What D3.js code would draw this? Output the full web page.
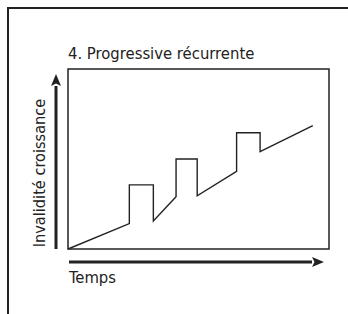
<!DOCTYPE html>
<html><head><meta charset="utf-8">
<script src="https://cdn.jsdelivr.net/npm/d3@7"></script>
<style>body{margin:0;background:#fff}svg{display:block}text{font-family:"DejaVu Sans Condensed","Liberation Sans Narrow",sans-serif;fill:#222}</style>
</head><body><svg id="c" width="348" height="314"></svg>
<script>
const title = "4. Progressive récurrente";
const yLabel = "Invalidité croissance";
const xLabel = "Temps";
const timeX = [0, 23.5, 23.5, 32.7, 32.7, 41.4, 41.4, 49.5, 49.5, 64.6, 64.6, 73.6, 73.6, 93.8];
const disability = [0, 14.1, 35.6, 35.6, 15.6, 29.1, 50, 50, 29.6, 43.2, 64.6, 64.6, 54.1, 68.5];

const svg = d3.select("#c");
const col = "#222";
const L = 68, R = 329, T = 69, B = 249;
const x = d3.scaleLinear().domain([0, 100]).range([L, R]);
const y = d3.scaleLinear().domain([0, 100]).range([B, T]);

// outer frame
svg.append("path").attr("d", "M8,314 V8 H348").attr("fill", "none").attr("stroke", col).attr("stroke-width", 2);

// title
svg.append("text").attr("x", L).attr("y", 59).attr("font-size", 16.5).text(title);

// plot box
svg.append("rect").attr("x", L).attr("y", T).attr("width", R - L).attr("height", B - T)
  .attr("fill", "none").attr("stroke", col).attr("stroke-width", 1.5);

// data line
svg.append("path").datum(d3.zip(timeX, disability))
  .attr("d", d3.line().x(d => x(d[0])).y(d => y(d[1])))
  .attr("fill", "none").attr("stroke", col).attr("stroke-width", 1.4);

// arrows
svg.append("defs").append("marker").attr("id", "ah").attr("viewBox", "0 0 12 10")
  .attr("refX", 0).attr("refY", 5).attr("markerWidth", 12).attr("markerHeight", 10)
  .attr("markerUnits", "userSpaceOnUse").attr("orient", "auto")
  .append("path").attr("d", "M0,0 L12,5 L0,10 L2.5,5 Z").attr("fill", col);
svg.append("line").attr("x1", 56).attr("y1", B).attr("x2", 56).attr("y2", 86)
  .attr("stroke", col).attr("stroke-width", 3).attr("marker-end", "url(#ah)");
svg.append("line").attr("x1", 69).attr("y1", 262).attr("x2", 312).attr("y2", 262)
  .attr("stroke", col).attr("stroke-width", 3).attr("marker-end", "url(#ah)");

// axis labels
svg.append("text").attr("transform", "translate(44.5,173) rotate(-90)").attr("text-anchor", "middle")
  .attr("font-size", 16.2).text(yLabel);
svg.append("text").attr("x", 69).attr("y", 283).attr("font-size", 16.5).text(xLabel);
</script></body></html>
